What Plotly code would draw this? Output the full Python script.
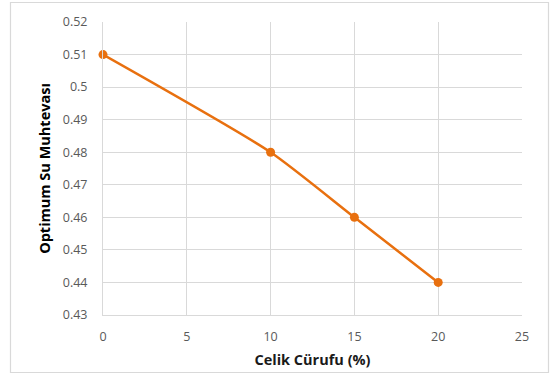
import plotly.graph_objects as go

# Steel slag content (%) vs optimum water content
slag_pct = [0, 10, 15, 20]
optimum_water = [0.51, 0.48, 0.46, 0.44]

x_ticks = [0, 5, 10, 15, 20, 25]
y_ticks = [0.43, 0.44, 0.45, 0.46, 0.47, 0.48, 0.49, 0.50, 0.51, 0.52]
y_tick_text = ["0.43", "0.44", "0.45", "0.46", "0.47", "0.48", "0.49", "0.5", "0.51", "0.52"]

orange = "#E8700F"
grid = "#D9D9D9"

fig = go.Figure()
fig.add_trace(go.Scatter(
    x=slag_pct, y=optimum_water,
    mode="lines+markers",
    line=dict(color=orange, width=2.5, shape="spline", smoothing=0.6),
    marker=dict(color=orange, size=9),
    cliponaxis=False,
    showlegend=False,
))

W, H = 553, 378
L, R, T, B = 103, 31, 22, 63
pw, ph = W - L - R, H - T - B

def px_to_paper_x(px):
    return (px - L) / pw

def px_to_paper_y(py):
    return (H - B - py) / ph

fig.add_shape(
    type="rect", xref="paper", yref="paper",
    x0=px_to_paper_x(10.5), x1=px_to_paper_x(548.5),
    y0=px_to_paper_y(372.5), y1=px_to_paper_y(2.5),
    line=dict(color="#D9D9D9", width=1.2), layer="below",
)

fig.update_layout(
    width=W, height=H,
    margin=dict(l=L, r=R, t=T, b=B),
    paper_bgcolor="white", plot_bgcolor="white",
    font=dict(family="Open Sans, Noto Sans, sans-serif", color="#595959", size=12),
    xaxis=dict(
        range=[0, 25], tickvals=x_ticks, showgrid=True, gridcolor=grid, gridwidth=1,
        showline=True, linecolor=grid, linewidth=1, zeroline=False,
        ticks="", ticklabelstandoff=10,
        title=dict(text="<b>Celik Cürufu (%)</b>", font=dict(size=14.5, color="#1a1a1a"), standoff=10),
        tickfont=dict(size=12.5, color="#595959"),
    ),
    yaxis=dict(
        range=[0.43, 0.52], tickvals=y_ticks, ticktext=y_tick_text,
        showgrid=True, gridcolor=grid, gridwidth=1,
        showline=True, linecolor=grid, linewidth=1, zeroline=False,
        ticks="", ticklabelstandoff=12,
        title=dict(text="<b>Optimum Su Muhtevası</b>", font=dict(size=14.5, color="#000000"), standoff=8),
        tickfont=dict(size=12.5, color="#595959"),
    ),
)

fig.write_html("out.html")
